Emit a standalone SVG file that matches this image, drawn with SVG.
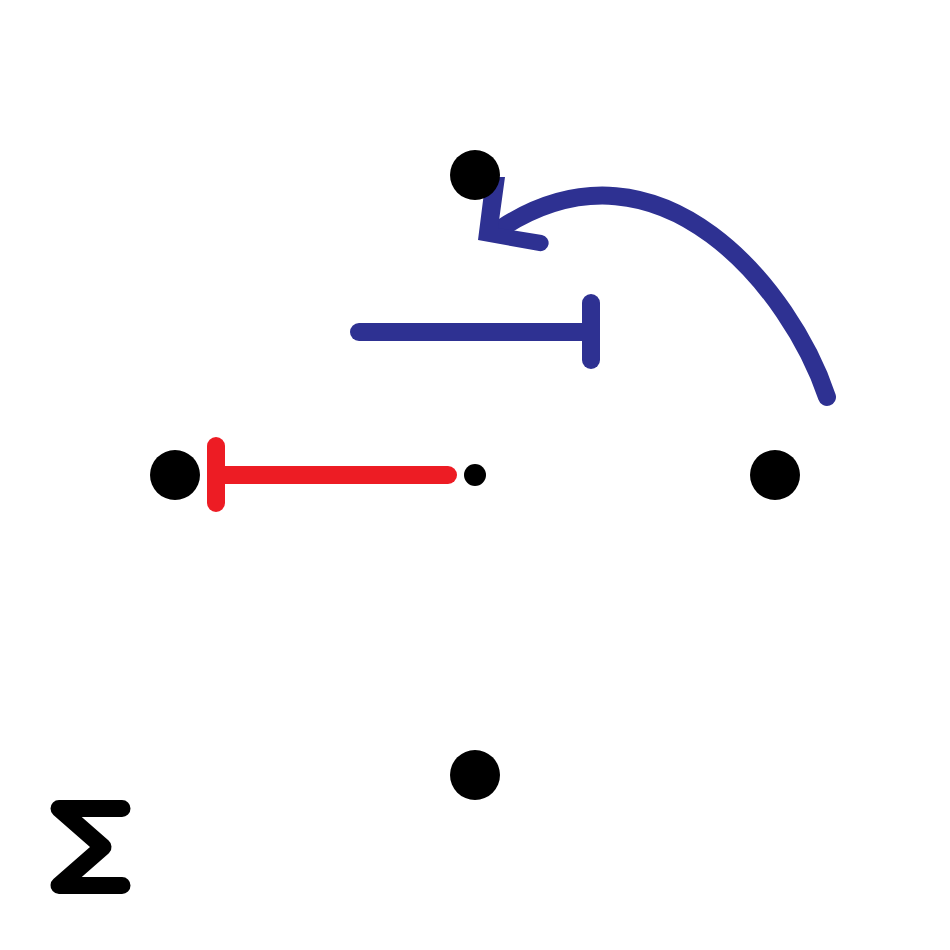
<svg xmlns="http://www.w3.org/2000/svg" width="950" height="950" viewBox="0 0 950 950">
  <style>
    .blue { stroke: #2E3192; fill: none; stroke-width: 18; stroke-linecap: round; }
    .red { stroke: #ED1C24; fill: none; stroke-width: 18; stroke-linecap: round; }
    .node { fill: #000000; }
  </style>
  <rect width="950" height="950" fill="#ffffff"/>
  <g id="connectors">
    <g id="inhibit-blue">
      <line class="blue" x1="359" y1="332" x2="591" y2="332"/>
      <line class="blue" x1="591" y1="303" x2="591" y2="360"/>
    </g>
    <g id="inhibit-red">
      <line class="red" x1="216" y1="475" x2="448" y2="475"/>
      <line class="red" x1="216" y1="446" x2="216" y2="503"/>
    </g>
    <g id="arc-arrow">
      <path class="blue" d="M 827,397 C 792,292 662,126 503,227"/>
      <path fill="#2E3192" d="M 486,177 L 505,177 L 498,228 L 542,235 A 8 8 0 0 1 539,251 L 478,240 Z"/>
    </g>
  </g>
  <g id="node-top"><circle class="node" cx="475" cy="175" r="25"/></g>
  <g id="node-left"><circle class="node" cx="175" cy="475" r="25"/></g>
  <g id="node-right"><circle class="node" cx="775" cy="475" r="25"/></g>
  <g id="node-bottom"><circle class="node" cx="475" cy="775" r="25"/></g>
  <g id="node-center"><circle class="node" cx="475" cy="475" r="11"/></g>
  <g id="sigma">
    <polyline points="122,808.5 59,808.5 103,847 59,885.5 122,885.5" fill="none" stroke="#000000" stroke-width="17" stroke-linecap="round" stroke-linejoin="round"/>
  </g>
</svg>
